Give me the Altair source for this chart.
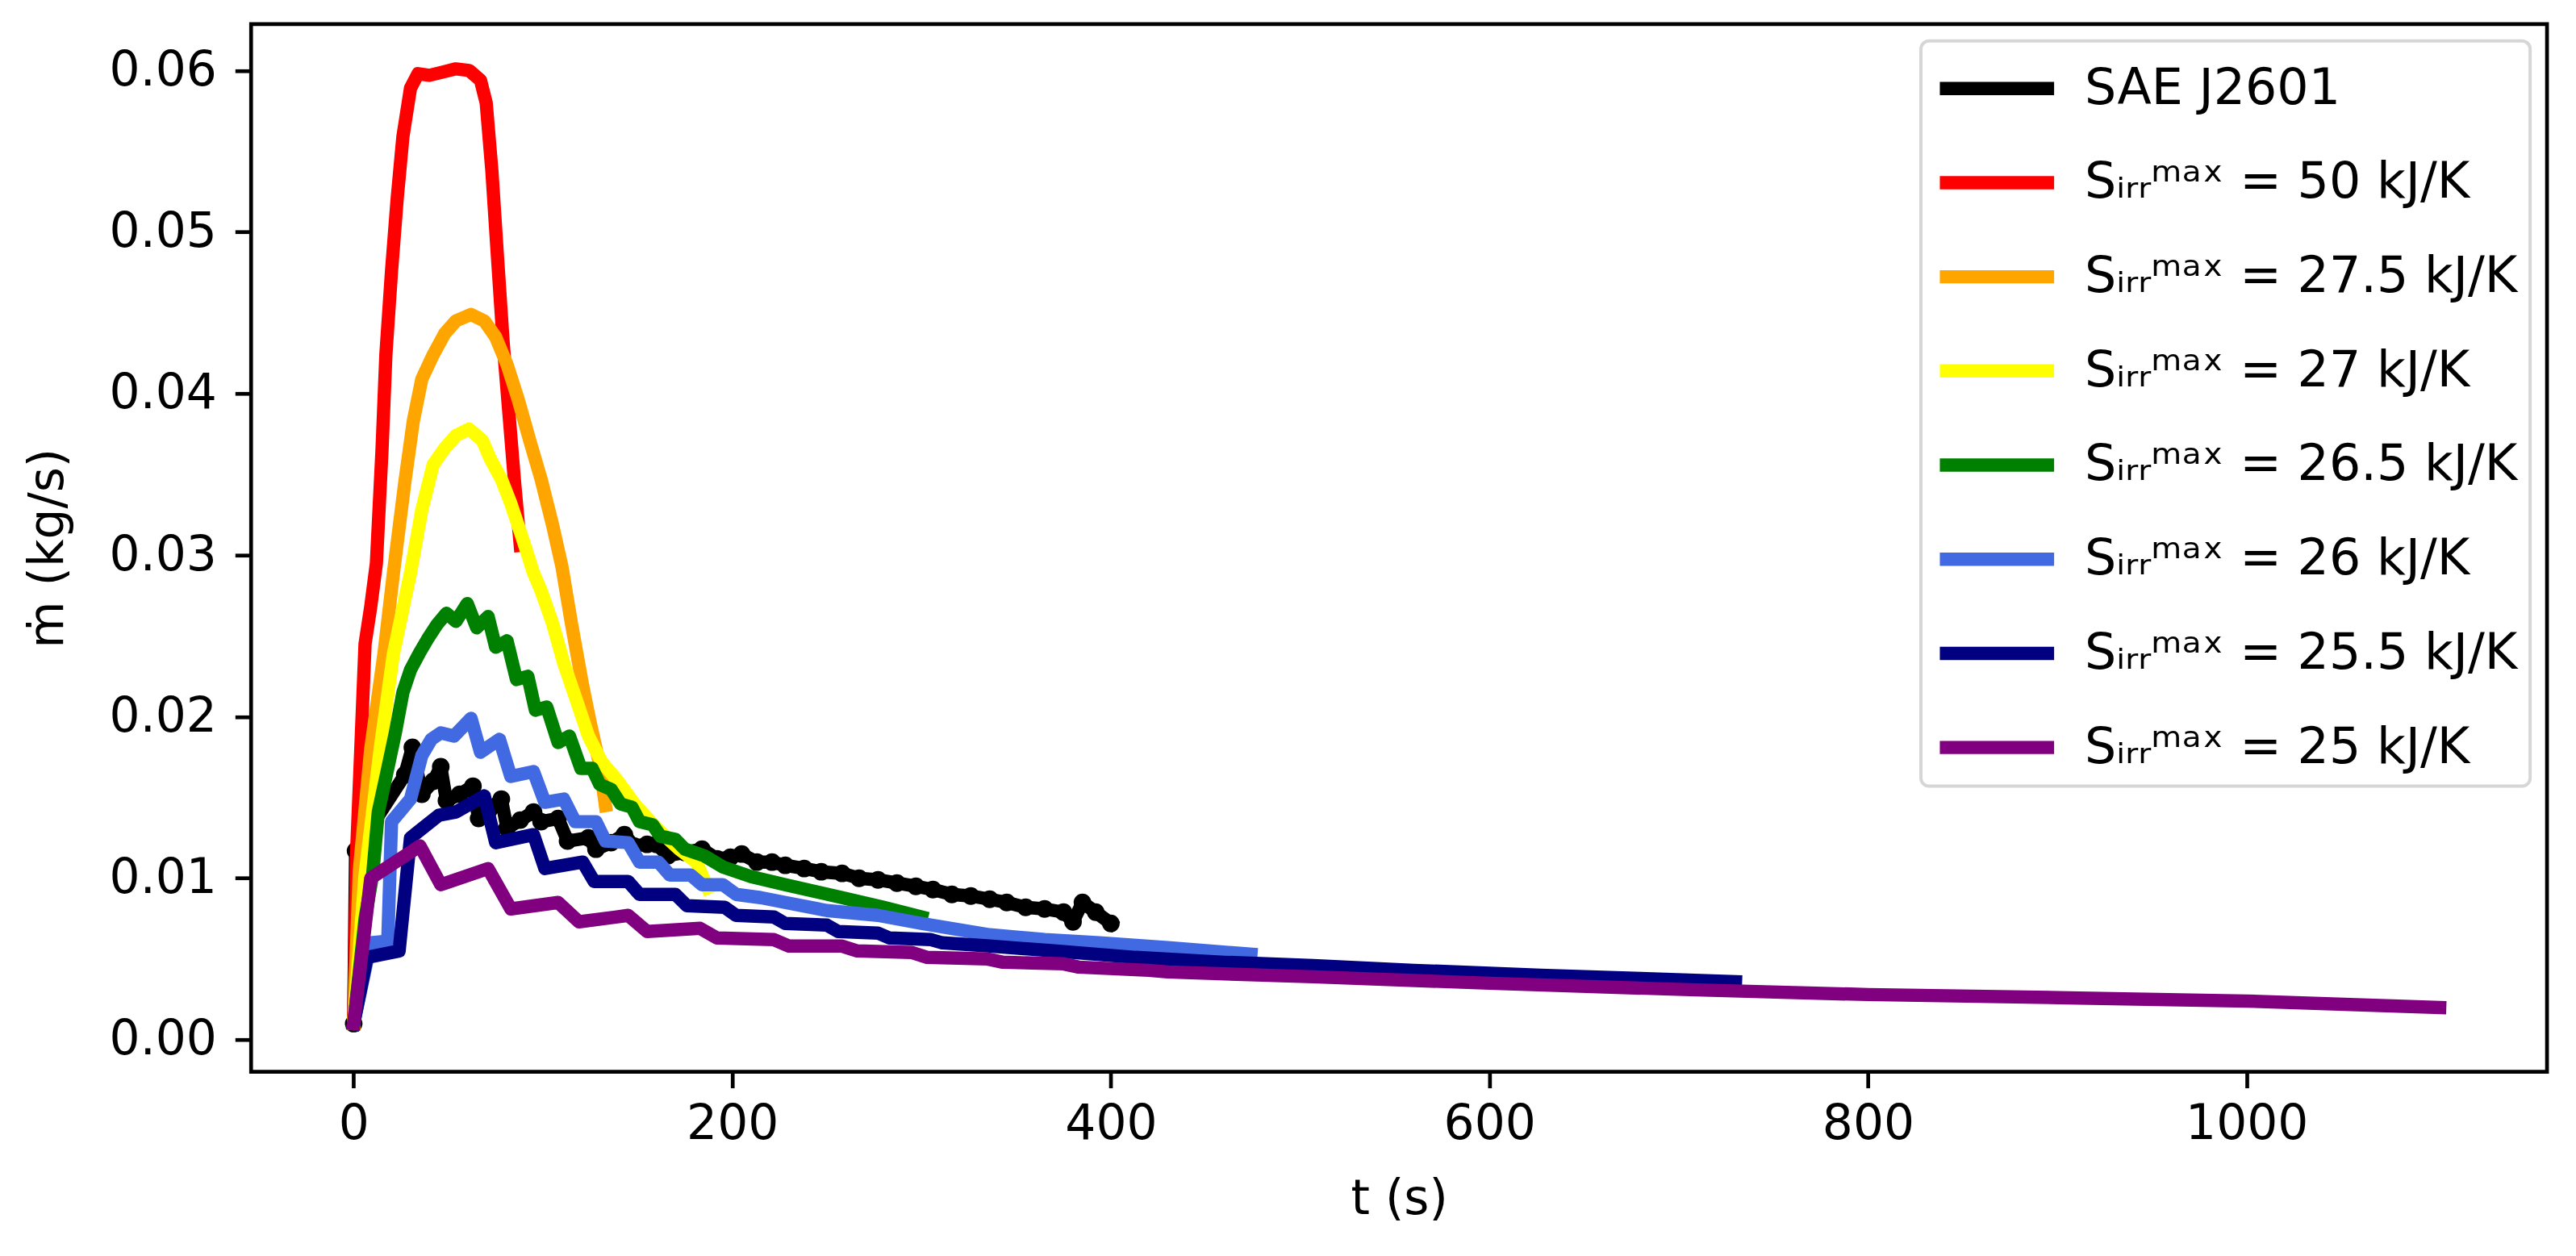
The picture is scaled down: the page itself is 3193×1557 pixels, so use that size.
import altair as alt
import pandas as pd

# ---------------- data ----------------
series_names = [
    "SAE J2601",
    "Sᵢᵣᵣᵐᵃˣ = 50 kJ/K",
    "Sᵢᵣᵣᵐᵃˣ = 27.5 kJ/K",
    "Sᵢᵣᵣᵐᵃˣ = 27 kJ/K",
    "Sᵢᵣᵣᵐᵃˣ = 26.5 kJ/K",
    "Sᵢᵣᵣᵐᵃˣ = 26 kJ/K",
    "Sᵢᵣᵣᵐᵃˣ = 25.5 kJ/K",
    "Sᵢᵣᵣᵐᵃˣ = 25 kJ/K",
]
series_colors = ["#000000", "#ff0000", "#ffa500", "#ffff00",
                 "#008000", "#4169e1", "#000080", "#800080"]

sae_t = [0, 1, 27, 31, 36, 42, 46, 49, 56, 63, 66, 72, 78, 81, 88, 95, 99,
         108, 113, 124, 128, 136, 143, 148, 155, 160, 166, 175, 184, 192, 199,
         205, 213, 221, 228, 238, 247, 258, 267, 277, 287, 297, 306, 316, 326,
         336, 345, 355, 365, 375, 380, 385, 392, 400]
sae_m = [0.0010, 0.0117, 0.0164, 0.0181, 0.0152, 0.0160, 0.0169, 0.0148,
         0.0152, 0.0157, 0.0137, 0.0143, 0.0149, 0.0131, 0.0136, 0.0141,
         0.0135, 0.0137, 0.0123, 0.0125, 0.0118, 0.0122, 0.0127, 0.0120,
         0.0121, 0.0121, 0.0114, 0.0116, 0.0118, 0.0112, 0.0113, 0.0115,
         0.0110, 0.0110, 0.0108, 0.0106, 0.0104, 0.0103, 0.0100, 0.0099,
         0.0097, 0.0095, 0.0093, 0.0090, 0.0089, 0.0087, 0.0085, 0.0082,
         0.0081, 0.0079, 0.0073, 0.0085, 0.0079, 0.0072]

s50_t = [0, 1.5, 6, 9, 12, 15, 17, 20, 23, 26, 30, 34, 40, 47, 54, 61, 67,
         70, 73, 76, 79, 82, 85, 88]
s50_m = [0.0010, 0.0115, 0.0245, 0.0268, 0.0295, 0.0366, 0.0424, 0.0476,
         0.0521, 0.0559, 0.0589, 0.0598, 0.0597, 0.0599, 0.0601, 0.0600,
         0.0594, 0.0580, 0.0538, 0.0484, 0.0431, 0.0388, 0.0345, 0.0306]

s275_t = [0, 3, 9, 16, 21, 27, 31.5, 36, 42, 48, 54, 62, 69, 75, 81, 87, 93,
          99, 105, 110, 115, 121, 125, 130, 133]
s275_m = [0.0010, 0.0105, 0.0180, 0.0239, 0.0289, 0.0345, 0.0383, 0.0409,
          0.0424, 0.0437, 0.0445, 0.0449, 0.0445, 0.0435, 0.0418, 0.0396,
          0.0371, 0.0347, 0.0319, 0.0293, 0.0258, 0.0219, 0.0196, 0.0170,
          0.0145]

s27_t = [0, 6, 14, 21, 30, 36, 42, 48, 54, 61, 68, 72, 78, 83, 89, 95, 99,
         105, 111, 118, 124, 131, 139, 149, 160, 172, 181, 187]
s27_m = [0.0010, 0.0102, 0.0180, 0.0239, 0.0289, 0.0328, 0.0356, 0.0366,
         0.0374, 0.0378, 0.0371, 0.0360, 0.0347, 0.0332, 0.0311, 0.0289,
         0.0278, 0.0258, 0.0233, 0.0209, 0.0188, 0.0172, 0.0161, 0.0145,
         0.0131, 0.0118, 0.0110, 0.0094]

s265_t = [0, 6, 10, 13, 18, 22, 26, 30, 35, 39, 44, 49, 54, 60, 65, 71, 75,
          81, 86, 92, 96, 102, 108, 114, 120, 126, 130, 136, 141, 147, 151,
          158, 162, 170, 175, 185, 195, 210, 228, 258, 280, 300]
s265_m = [0.0010, 0.0075, 0.0102, 0.0141, 0.0168, 0.0190, 0.0215, 0.0229,
          0.0240, 0.0248, 0.0257, 0.0264, 0.0259, 0.0270, 0.0255, 0.0262,
          0.0243, 0.0247, 0.0223, 0.0225, 0.0204, 0.0206, 0.0184, 0.0188,
          0.0168, 0.0168, 0.0158, 0.0155, 0.0146, 0.0144, 0.0135, 0.0133,
          0.0126, 0.0124, 0.0118, 0.0114, 0.0107, 0.0101, 0.0096, 0.0088,
          0.0082, 0.0076]

s26_t = [0, 9, 18, 20, 30, 36, 41, 46, 53, 62, 67, 77, 83, 95, 101, 111,
         117, 128, 133, 145, 151, 161, 167, 178, 184, 195, 202, 215, 228,
         250, 277, 300, 336, 365, 394, 430, 474]
s26_m = [0.0010, 0.0060, 0.0061, 0.0135, 0.0149, 0.0176, 0.0186, 0.0190,
         0.0188, 0.0199, 0.0178, 0.0186, 0.0163, 0.0166, 0.0147, 0.0149,
         0.0135, 0.0135, 0.0123, 0.0122, 0.0110, 0.0110, 0.0102, 0.0102,
         0.0096, 0.0096, 0.0090, 0.0088, 0.0085, 0.0080, 0.0077, 0.0072,
         0.0065, 0.0062, 0.0060, 0.0057, 0.0053]

s255_t = [0, 7, 24, 30, 45, 54, 69, 75, 95, 101, 121, 127, 145, 151, 170,
          176, 196, 202, 222, 228, 250, 256, 277, 283, 305, 311, 336, 370,
          413, 460, 507, 560, 627, 680, 730]
s255_m = [0.0010, 0.0051, 0.0055, 0.0125, 0.0139, 0.0141, 0.0151, 0.0122,
          0.0127, 0.0106, 0.0110, 0.0098, 0.0098, 0.0090, 0.0090, 0.0083,
          0.0082, 0.0077, 0.0076, 0.0072, 0.0071, 0.0067, 0.0066, 0.0063,
          0.0062, 0.0060, 0.0058, 0.0055, 0.0051, 0.0048, 0.0046, 0.0043,
          0.0040, 0.0038, 0.0036]

s25_t = [0, 9, 35, 46, 71, 83, 108, 119, 145, 155, 183, 192, 222, 230, 258,
         266, 295, 303, 335, 343, 375, 383, 420, 430, 507, 600, 706, 800,
         906, 1000, 1102]
s25_m = [0.0010, 0.0100, 0.0120, 0.0096, 0.0106, 0.0081, 0.0085, 0.0073,
         0.0077, 0.0067, 0.0069, 0.0063, 0.0062, 0.0058, 0.0058, 0.0055,
         0.0054, 0.0051, 0.0050, 0.0048, 0.0047, 0.0045, 0.0043, 0.0042,
         0.0039, 0.0035, 0.0031, 0.0028, 0.0026, 0.0024, 0.0020]

x_ticks = [0, 200, 400, 600, 800, 1000]
y_ticks = [0.00, 0.01, 0.02, 0.03, 0.04, 0.05, 0.06]

# ---------------- build table ----------------
all_series = [(sae_t, sae_m), (s50_t, s50_m), (s275_t, s275_m), (s27_t, s27_m),
              (s265_t, s265_m), (s26_t, s26_m), (s255_t, s255_m), (s25_t, s25_m)]
rows = []
for name, (ts, ms) in zip(series_names, all_series):
    for t, m in zip(ts, ms):
        rows.append({"t": t, "m": m, "series": name})
df = pd.DataFrame(rows)

FONT = "DejaVu Sans"
FS = 60
LFS = 62
LW = 16.5

LINE_PATH = "M-2,0L2,0"

x_enc = alt.X("t:Q",
              scale=alt.Scale(domain=[-54.2, 1158.7], nice=False, zero=False),
              axis=alt.Axis(values=x_ticks, format="d", title="t (s)",
                            labelPadding=16, titlePadding=34))
y_enc = alt.Y("m:Q",
              scale=alt.Scale(domain=[-0.00198, 0.06287], nice=False, zero=False),
              axis=alt.Axis(values=y_ticks, format=".2f", title="ṁ (kg/s)",
                            labelPadding=23, titlePadding=45))
color_enc = alt.Color(
    "series:N",
    scale=alt.Scale(domain=series_names, range=series_colors),
    legend=alt.Legend(
        title=None, orient="none", legendX=2075, legendY=21,
        direction="vertical", fillColor="white", strokeColor="#d6d6d6",
        cornerRadius=10, padding=15,
        labelFont=FONT, labelFontSize=LFS, labelColor="black", labelLimit=2000,
        labelOffset=65, symbolType=LINE_PATH, symbolSize=5041,
        symbolOffset=35.5, symbolStrokeWidth=LW, rowPadding=40,
        symbolOpacity=1,
    ),
)

base = alt.Chart(df)
layers = []
for i, name in enumerate(series_names):
    layers.append(
        base.transform_filter(alt.datum.series == name)
        .mark_line(strokeWidth=LW, strokeJoin="round", strokeCap="square", clip=True)
        .encode(x=x_enc, y=y_enc, color=color_enc)
    )
    if i == 0:
        layers.append(
            base.transform_filter(alt.datum.series == name)
            .mark_circle(size=480, color="black", opacity=1, clip=True)
            .encode(x=x_enc, y=y_enc)
        )

chart = (
    alt.layer(*layers)
    .properties(width=2853, height=1302,
                autosize=alt.AutoSizeParams(type="none"),
                padding={"left": 304, "top": 20, "right": 28, "bottom": 227})
    .configure_view(stroke="black", strokeWidth=4.7)
    .configure_legend(strokeWidth=4)
    .configure_axis(domain=False, grid=False, ticks=True, tickColor="black",
                    tickWidth=4.7, tickSize=20, labelFont=FONT, labelFontSize=FS,
                    labelColor="black", titleFont=FONT, titleFontSize=FS,
                    titleFontWeight="normal", titleColor="black")
)

chart.save("out.html", embed_options={"renderer": "svg", "actions": False})
